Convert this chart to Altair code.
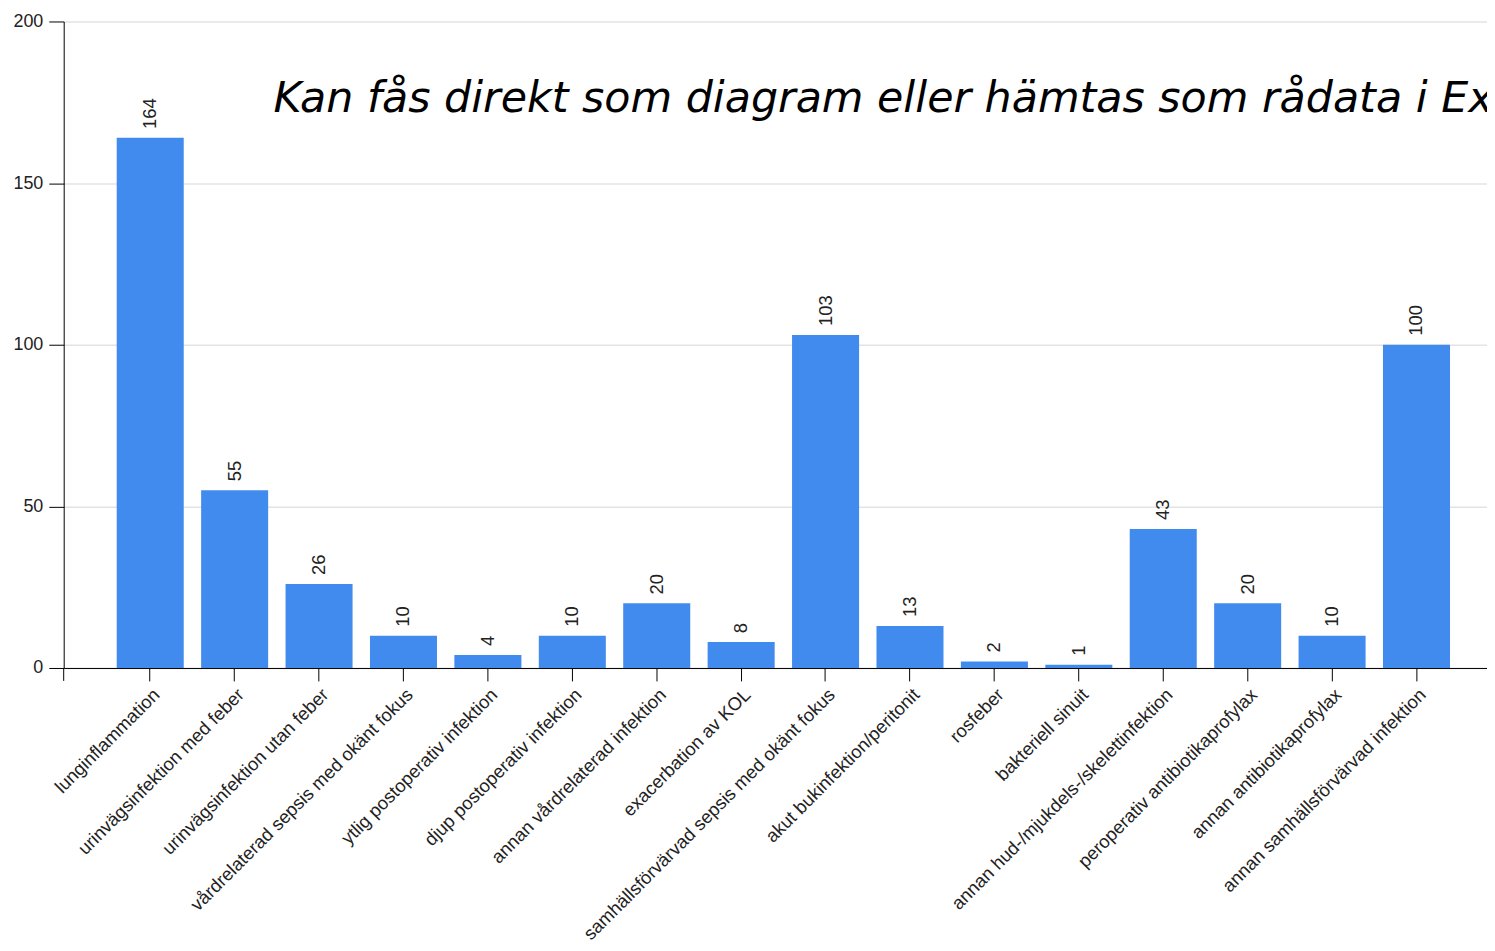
import altair as alt
import pandas as pd

categories = [
    "lunginflammation",
    "urinvägsinfektion med feber",
    "urinvägsinfektion utan feber",
    "vårdrelaterad sepsis med okänt fokus",
    "ytlig postoperativ infektion",
    "djup postoperativ infektion",
    "annan vårdrelaterad infektion",
    "exacerbation av KOL",
    "samhällsförvärvad sepsis med okänt fokus",
    "akut bukinfektion/peritonit",
    "rosfeber",
    "bakteriell sinuit",
    "annan hud-/mjukdels-/skelettinfektion",
    "peroperativ antibiotikaprofylax",
    "annan antibiotikaprofylax",
    "annan samhällsförvärvad infektion",
]
counts = [164, 55, 26, 10, 4, 10, 20, 8, 103, 13, 2, 1, 43, 20, 10, 100]
y_ticks = [0, 50, 100, 150, 200]
overlay_text = ["Kan fås direkt som diagram eller hämtas som rådata i Excel"]

df = pd.DataFrame({"kategori": categories, "antal": counts})

FONT = "Liberation Sans, Arial, sans-serif"
BLUE = "#428bee"

x_enc = alt.X(
    "kategori:N",
    sort=None,
    title=None,
    scale=alt.Scale(paddingInner=0.206, paddingOuter=0.533, align=0.589, round=False),
    axis=alt.Axis(
        labelAngle=-45,
        labelFontSize=18.5,
        labelFont=FONT,
        labelColor="#222222",
        labelLimit=0,
        labelPadding=4,
        tickSize=13,
        tickColor="#000000",
        domainColor="#000000",
        grid=False,
    ),
)
y_enc = alt.Y(
    "antal:Q",
    title=None,
    scale=alt.Scale(domain=[0, 200], nice=False),
    axis=alt.Axis(
        values=y_ticks,
        labelFontSize=18,
        labelFont=FONT,
        labelColor="#222222",
        labelPadding=6,
        tickSize=15,
        tickColor="#000000",
        domainColor="#000000",
        gridColor="#e3e3e3",
        gridWidth=1.5,
    ),
)

base = alt.Chart(df)

bars = base.mark_bar(color=BLUE).encode(x=x_enc, y=y_enc)

values = base.mark_text(
    angle=270,
    align="left",
    baseline="middle",
    dx=9,
    fontSize=18.5,
    font=FONT,
    color="#222222",
).encode(x=alt.X("kategori:N", sort=None), y="antal:Q", text="antal:Q")

title_df = pd.DataFrame({"t": overlay_text})
title = alt.Chart(title_df).mark_text(
    align="left",
    baseline="alphabetic",
    fontSize=43,
    font="DejaVu Sans",
    fontStyle="italic",
    color="#000000",
).encode(x=alt.value(211), y=alt.value(91), text="t:N")

corner = alt.Chart(pd.DataFrame({"k": [0]})).mark_rule(color="#000000").encode(
    x=alt.value(0), y=alt.value(650), y2=alt.value(663)
)

chart = (
    alt.layer(bars, values, title, corner)
    .properties(
        width=1431,
        height=650,
        autosize=alt.AutoSizeParams(type="none"),
        padding={"left": 56, "top": 11, "right": 0, "bottom": 282},
    )
    .configure_view(stroke=None)
)

chart.save("out.html", embed_options={"renderer": "svg", "actions": False})
